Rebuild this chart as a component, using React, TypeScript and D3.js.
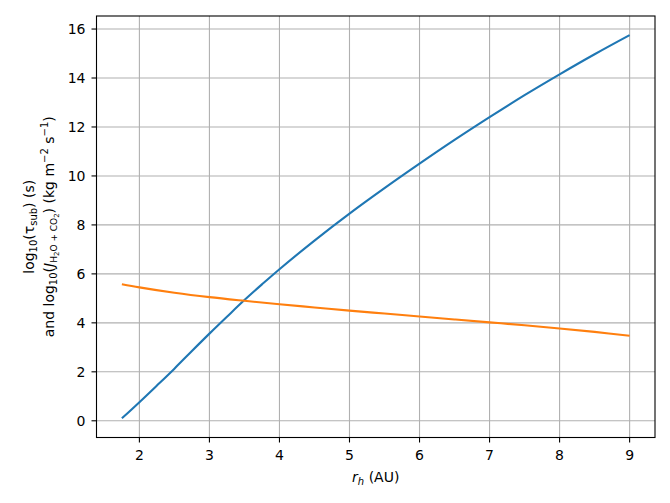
import React from "react";
import * as d3 from "d3";

const xBlue = [1.75, 2.0, 2.25, 2.5, 2.75, 3.0, 3.25, 3.5, 3.75, 4.0, 4.5, 5.0, 5.5, 6.0, 6.5, 7.0, 7.5, 8.0, 8.5, 9.0];
const yBlue = [0.1, 0.76, 1.44, 2.13, 2.85, 3.56, 4.25, 4.93, 5.57, 6.19, 7.36, 8.46, 9.5, 10.5, 11.47, 12.4, 13.3, 14.15, 14.97, 15.75];
const xOrange = [1.75, 2.0, 2.5, 3.0, 3.5, 4.0, 4.5, 5.0, 5.5, 6.0, 6.5, 7.0, 7.5, 8.0, 8.5, 9.0];
const yOrange = [5.58, 5.45, 5.23, 5.05, 4.9, 4.76, 4.63, 4.5, 4.38, 4.26, 4.14, 4.02, 3.9, 3.77, 3.63, 3.47];
const xTicks = [2, 3, 4, 5, 6, 7, 8, 9];
const yTicks = [0, 2, 4, 6, 8, 10, 12, 14, 16];

const W = 670, H = 503;
const L = 96.5, R = 655, T = 16, B = 437.5;
const FONT = "DejaVu Sans, sans-serif";

export default function App() {
  const x = d3.scaleLinear().domain([1.3875, 9.3625]).range([L, R]);
  const yMin = 0.1 - 0.05 * 15.65, yMax = 15.75 + 0.05 * 15.65;
  const y = d3.scaleLinear().domain([yMin, yMax]).range([B, T]);
  const line = d3.line<[number, number]>().x(d => x(d[0])).y(d => y(d[1])).curve(d3.curveCatmullRom.alpha(0.5));
  const blue = xBlue.map((v, i) => [v, yBlue[i]] as [number, number]);
  const orange = xOrange.map((v, i) => [v, yOrange[i]] as [number, number]);
  const fs = 14;
  const sub = 10;
  return (
    <svg width={W} height={H} style={{ position: "absolute", left: 0, top: 0, background: "#fff" }} fontFamily={FONT}>
      <rect x={0} y={0} width={W} height={H} fill="#fff" />
      {xTicks.map(t => (
        <line key={"gx" + t} x1={x(t)} x2={x(t)} y1={T} y2={B} stroke="#b0b0b0" strokeWidth={1.1} />
      ))}
      {yTicks.map(t => (
        <line key={"gy" + t} x1={L} x2={R} y1={y(t)} y2={y(t)} stroke="#b0b0b0" strokeWidth={1.1} />
      ))}
      <path d={line(blue) || ""} fill="none" stroke="#1f77b4" strokeWidth={2.1} />
      <path d={line(orange) || ""} fill="none" stroke="#ff7f0e" strokeWidth={2.1} />
      <rect x={L} y={T} width={R - L} height={B - T} fill="none" stroke="#000" strokeWidth={1.1} />
      {xTicks.map(t => (
        <g key={"tx" + t}>
          <line x1={x(t)} x2={x(t)} y1={B} y2={B + 5} stroke="#000" strokeWidth={1.1} />
          <text x={x(t)} y={B + 22} textAnchor="middle" fontSize={fs} fill="#000">{t}</text>
        </g>
      ))}
      {yTicks.map(t => (
        <g key={"ty" + t}>
          <line x1={L - 5} x2={L} y1={y(t)} y2={y(t)} stroke="#000" strokeWidth={1.1} />
          <text x={L - 11} y={y(t) + 5} textAnchor="end" fontSize={fs} fill="#000">{t}</text>
        </g>
      ))}
      <text x={(L + R) / 2} y={482} textAnchor="middle" fontSize={fs} fill="#000">
        <tspan fontStyle="italic">r</tspan>
        <tspan fontStyle="italic" fontSize={sub} dy={3}>h</tspan>
        <tspan dy={-3}> (AU)</tspan>
      </text>
      <g transform={`translate(34, ${(T + B) / 2}) rotate(-90)`}>
        <text x={0} y={0} textAnchor="middle" fontSize={fs} fill="#000">
          <tspan>log</tspan>
          <tspan fontSize={sub} dy={3}>10</tspan>
          <tspan dy={-3}>(τ</tspan>
          <tspan fontSize={sub} dy={3}>sub</tspan>
          <tspan dy={-3}>) (s)</tspan>
        </text>
      </g>
      <g transform={`translate(54, ${(T + B) / 2}) rotate(-90)`}>
        <text x={0} y={0} textAnchor="middle" fontSize={fs} fill="#000">
          <tspan>and log</tspan>
          <tspan fontSize={sub} dy={3}>10</tspan>
          <tspan dy={-3}>(</tspan>
          <tspan fontStyle="italic">J</tspan>
          <tspan fontSize={sub - 1} dy={3}>H</tspan>
          <tspan fontSize={7} dy={2}>2</tspan>
          <tspan fontSize={sub - 1} dy={-2}>O + CO</tspan>
          <tspan fontSize={7} dy={2}>2</tspan>
          <tspan dy={-5}>) (kg m</tspan>
          <tspan fontSize={sub} dy={-6}>−2</tspan>
          <tspan dy={6}> s</tspan>
          <tspan fontSize={sub} dy={-6}>−1</tspan>
          <tspan dy={6}>)</tspan>
        </text>
      </g>
    </svg>
  );
}
